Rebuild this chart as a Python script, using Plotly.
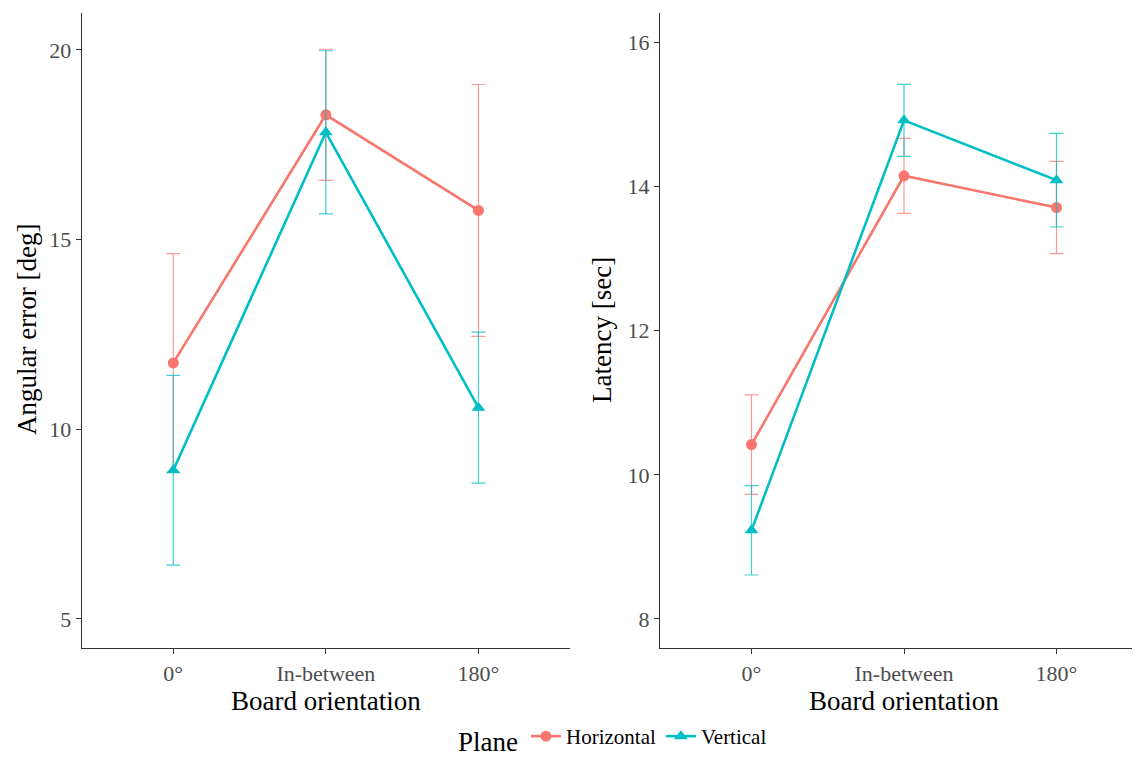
import plotly.graph_objects as go

categories = ["0°", "In-between", "180°"]

# Angular error [deg]
ang_h = [11.75, 18.29, 15.77]
ang_h_err = [2.88, 1.73, 3.32]
ang_v = [8.92, 17.83, 10.57]
ang_v_err = [2.50, 2.15, 1.99]

# Latency [sec]
lat_h = [10.42, 14.15, 13.71]
lat_h_err = [0.69, 0.52, 0.64]
lat_v = [9.23, 14.92, 14.09]
lat_v_err = [0.62, 0.50, 0.65]

RED = "#F8766D"
TEAL = "#00BFC4"
RED_A = "rgba(248,118,109,0.75)"
TEAL_A = "rgba(0,191,196,0.75)"
FONT = "Liberation Serif"

W, H = 1140, 757
OFF = 8  # page body margin offset


def px(x):
    return (x - OFF) / W


def py(y):
    return 1 - (y - OFF) / H


fig = go.Figure()


def add(x_ax, y_ax, y, err, name, color, ecolor, symbol, show):
    fig.add_trace(go.Scatter(
        x=categories, y=y, xaxis=x_ax, yaxis=y_ax, name=name,
        mode="lines+markers", showlegend=show, legendgroup=name,
        line=dict(color=color, width=2.6),
        marker=dict(color=color, symbol=symbol, size=11 if symbol == "circle" else 12),
        error_y=dict(type="data", array=err, visible=True, color=ecolor,
                     thickness=1.2, width=7),
    ))


add("x", "y", ang_h, ang_h_err, "Horizontal", RED, RED_A, "circle", True)
add("x", "y", ang_v, ang_v_err, "Vertical", TEAL, TEAL_A, "triangle-up", True)
add("x2", "y2", lat_h, lat_h_err, "Horizontal", RED, RED_A, "circle", False)
add("x2", "y2", lat_v, lat_v_err, "Vertical", TEAL, TEAL_A, "triangle-up", False)

axis_common = dict(
    showgrid=False, zeroline=False, showline=True, linecolor="#333333", linewidth=1.3,
    ticks="outside", ticklen=5, tickcolor="#333333", tickwidth=1.2,
    tickfont=dict(family=FONT, size=22, color="#4D4D4D"), automargin=False,
)

TITLE_FONT = dict(family=FONT, size=27, color="black")

fig.update_layout(
    width=W, height=H,
    margin=dict(l=0, r=0, t=0, b=0),
    paper_bgcolor="white", plot_bgcolor="white",
    font=dict(family=FONT),
    xaxis=dict(axis_common, domain=[px(81.7), px(570)], range=[-0.6, 2.6],
               type="category", anchor="y"),
    yaxis=dict(axis_common, domain=[py(648), py(13)], range=[4.235, 20.975],
               tickvals=[5, 10, 15, 20], anchor="x"),
    xaxis2=dict(axis_common, domain=[px(660), px(1148)], range=[-0.6, 2.6],
                type="category", anchor="y2"),
    yaxis2=dict(axis_common, domain=[py(648), py(13)], range=[7.597, 16.41],
                tickvals=[8, 10, 12, 14, 16], anchor="x2"),
    legend=dict(
        orientation="h", x=px(456), xanchor="left", y=py(739), yanchor="middle",
        title=dict(text="Plane", font=TITLE_FONT),
        font=dict(family=FONT, size=21, color="black"),
        itemwidth=30, bgcolor="rgba(0,0,0,0)",
    ),
    annotations=[
        dict(text="Board orientation", x=px(326), y=py(701), xref="paper", yref="paper",
             showarrow=False, font=TITLE_FONT, xanchor="center", yanchor="middle"),
        dict(text="Board orientation", x=px(904), y=py(701), xref="paper", yref="paper",
             showarrow=False, font=TITLE_FONT, xanchor="center", yanchor="middle"),
        dict(text="Angular error [deg]", x=px(27), y=py(330), xref="paper", yref="paper",
             showarrow=False, textangle=-90, font=TITLE_FONT,
             xanchor="center", yanchor="middle"),
        dict(text="Latency [sec]", x=px(602), y=py(330), xref="paper", yref="paper",
             showarrow=False, textangle=-90, font=TITLE_FONT,
             xanchor="center", yanchor="middle"),
    ],
)

fig.write_html("out.html")
